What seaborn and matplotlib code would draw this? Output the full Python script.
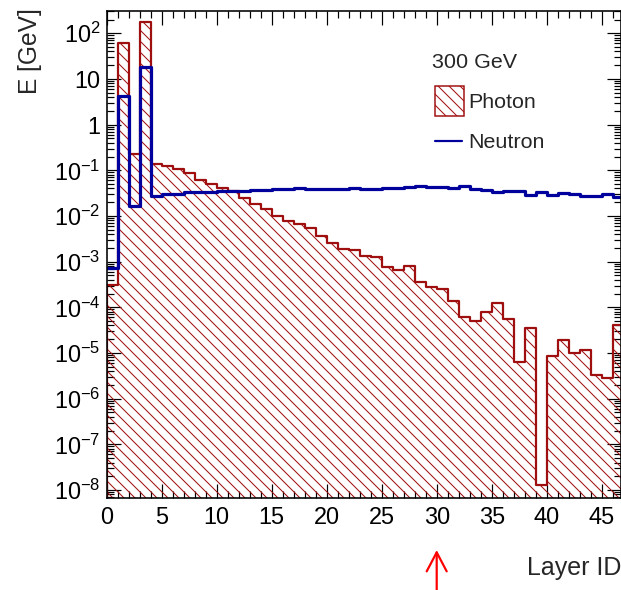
import numpy as np
import pandas as pd
import matplotlib
matplotlib.use("Agg")
import matplotlib.pyplot as plt
import matplotlib.transforms as mtransforms
import seaborn as sns
from matplotlib.ticker import MultipleLocator, FixedLocator, FuncFormatter, NullFormatter
from matplotlib.patches import Rectangle, FancyArrowPatch
from matplotlib.lines import Line2D

# ---------------- data ----------------
layer_edges = list(range(0, 48))
photon_energy = [3.1e-4, 60, 0.23, 177, 0.137, 0.126, 0.107, 0.086, 0.061, 0.050,
                 0.040, 0.0358, 0.0244, 0.0183, 0.0140, 0.0101, 0.0079, 0.0066, 0.0054, 0.0037,
                 0.00252, 0.00189, 0.0018, 0.00133, 0.00129, 7.5e-4, 6.6e-4, 8.0e-4, 3.6e-4, 2.8e-4,
                 2.5e-4, 1.4e-4, 6.0e-5, 5.1e-5, 8.0e-5, 1.26e-4, 5.5e-5, 6.3e-6, 3.6e-5, 1.3e-8,
                 8.7e-6, 1.9e-5, 9.8e-6, 1.16e-5, 3.3e-6, 2.8e-6, 4.0e-5]
neutron_energy = [7.2e-4, 4.3, 0.0166, 18.4, 0.0279, 0.0303, 0.0303, 0.0335, 0.0335, 0.0340,
                  0.0346, 0.0358, 0.0358, 0.0371, 0.0377, 0.0390, 0.0390, 0.0403, 0.0383, 0.0383,
                  0.0383, 0.0390, 0.0403, 0.0396, 0.0390, 0.0403, 0.0417, 0.0431, 0.0446, 0.0438,
                  0.0424, 0.0403, 0.0453, 0.0390, 0.0371, 0.0340, 0.0358, 0.0352, 0.0293, 0.0340,
                  0.0288, 0.0313, 0.0298, 0.0279, 0.0279, 0.0303, 0.0265]
series_labels = ["Photon", "Neutron"]
beam_label = "300 GeV"
x_label = "Layer ID"
y_label = "E [GeV]"
x_major_ticks = [0, 5, 10, 15, 20, 25, 30, 35, 40, 45]
y_tick_exponents = [-8, -7, -6, -5, -4, -3, -2, -1, 0, 1, 2]
arrow_layer = 30

# ---------------- style ----------------
sns.set_theme(style="ticks")
plt.rcParams["font.family"] = ["Liberation Sans", "DejaVu Sans"]
plt.rcParams["mathtext.fontset"] = "custom"
plt.rcParams["mathtext.rm"] = "Liberation Sans"
plt.rcParams["mathtext.it"] = "Liberation Sans:italic"
plt.rcParams["mathtext.default"] = "regular"
plt.rcParams["hatch.linewidth"] = 0.55

DPI = 132
W, H = 621, 590


def pt(p):  # pixels -> points
    return p * 72.0 / DPI


RED = "#a00f0f"
BLUE = "#00009c"
HATCH = "\\\\\\\\"

fig = plt.figure(figsize=(W / DPI, H / DPI), dpi=DPI)
L, R, T, B = 106.7, 621.0, 11.0, 497.5
ax = fig.add_axes([L / W, 1 - B / H, (R - L) / W, (B - T) / H])
ax.set_yscale("log")

edges = np.array(layer_edges, dtype=float)
centers = edges[:-1] + 0.5
n_bins = len(edges) - 1
df = pd.DataFrame({"layer": centers, "photon": photon_energy, "neutron": neutron_energy})

sns.histplot(data=df, x="layer", weights="photon", bins=n_bins,
             binrange=(edges[0], edges[-1]), element="step",
             fill=True, color=RED, facecolor="none", edgecolor=RED, hatch=HATCH,
             linewidth=pt(2.2), ax=ax)
sns.histplot(data=df, x="layer", weights="neutron", bins=n_bins,
             binrange=(edges[0], edges[-1]), element="step",
             fill=False, color=BLUE, linewidth=pt(3.2), ax=ax)

ax.set_xlim(0, (R - L) / 11.0)
ax.set_ylim(10 ** -8.164, 10 ** 2.488)
ax.set_xlabel("")
ax.set_ylabel("")

# ticks
ax.xaxis.set_major_locator(FixedLocator(x_major_ticks))
ax.xaxis.set_minor_locator(MultipleLocator(1))
major_y = [10.0 ** e for e in y_tick_exponents]
minor_y = [m * 10.0 ** e for e in range(-9, 3) for m in range(2, 10)
           if 10 ** -8.164 < m * 10.0 ** e < 10 ** 2.488]
ax.yaxis.set_major_locator(FixedLocator(major_y))
ax.yaxis.set_minor_locator(FixedLocator(minor_y))
ax.yaxis.set_minor_formatter(NullFormatter())


def yfmt(v, pos):
    e = int(round(np.log10(v)))
    if e == 0:
        return "1"
    if e == 1:
        return "10"
    return r"$10^{%d}$" % e


ax.yaxis.set_major_formatter(FuncFormatter(yfmt))
TICKFS = pt(23.5)
ax.tick_params(axis="both", which="both", direction="in", top=True, right=True,
               colors="black", labelcolor="black", width=pt(1.2))
ax.tick_params(axis="both", which="major", length=pt(14), labelsize=TICKFS)
ax.tick_params(axis="both", which="minor", length=pt(7))
ax.tick_params(axis="x", which="major", pad=pt(8))
ax.tick_params(axis="y", which="major", pad=pt(6))
for s in ax.spines.values():
    s.set_color("black")
    s.set_linewidth(pt(1.6))
ax.set_facecolor("white")

# axis titles
fig.text(30 / W, 1 - 8 / H, y_label, rotation=90, ha="center", va="top", fontsize=pt(24.5))
fig.text(621 / W, 1 - 568 / H, x_label, ha="right", va="center", fontsize=pt(25))

# legend (manual, ROOT-like)
LEGFS = pt(21.5)
fig.text(432 / W, 1 - 63 / H, beam_label, ha="left", va="center", fontsize=LEGFS)
fig.patches.append(Rectangle((434.5 / W, 1 - 115.5 / H), 29 / W, 29.5 / H, transform=fig.transFigure,
                             facecolor="none", edgecolor=RED, hatch=HATCH, linewidth=pt(1.5)))
fig.text(468 / W, 1 - 103 / H, series_labels[0], ha="left", va="center", fontsize=LEGFS)
fig.lines.append(Line2D([435 / W, 462 / W], [1 - 140.5 / H, 1 - 140.5 / H], transform=fig.transFigure,
                        color=BLUE, linewidth=pt(2.2)))
fig.text(468 / W, 1 - 142 / H, series_labels[1], ha="left", va="center", fontsize=LEGFS)

# red arrow pointing at layer 30 (x in data, y in figure fraction)
blend = mtransforms.blended_transform_factory(ax.transData, fig.transFigure)
arrow = FancyArrowPatch(posA=(arrow_layer, 0.0), posB=(arrow_layer, 1 - 550 / H),
                        transform=blend, arrowstyle="->,head_length=0.95,head_width=0.5",
                        mutation_scale=pt(20), color="red", linewidth=pt(2.2),
                        shrinkA=0, shrinkB=0, clip_on=False)
ax.add_artist(arrow)

fig.savefig("out.png", dpi=DPI, facecolor="white")
